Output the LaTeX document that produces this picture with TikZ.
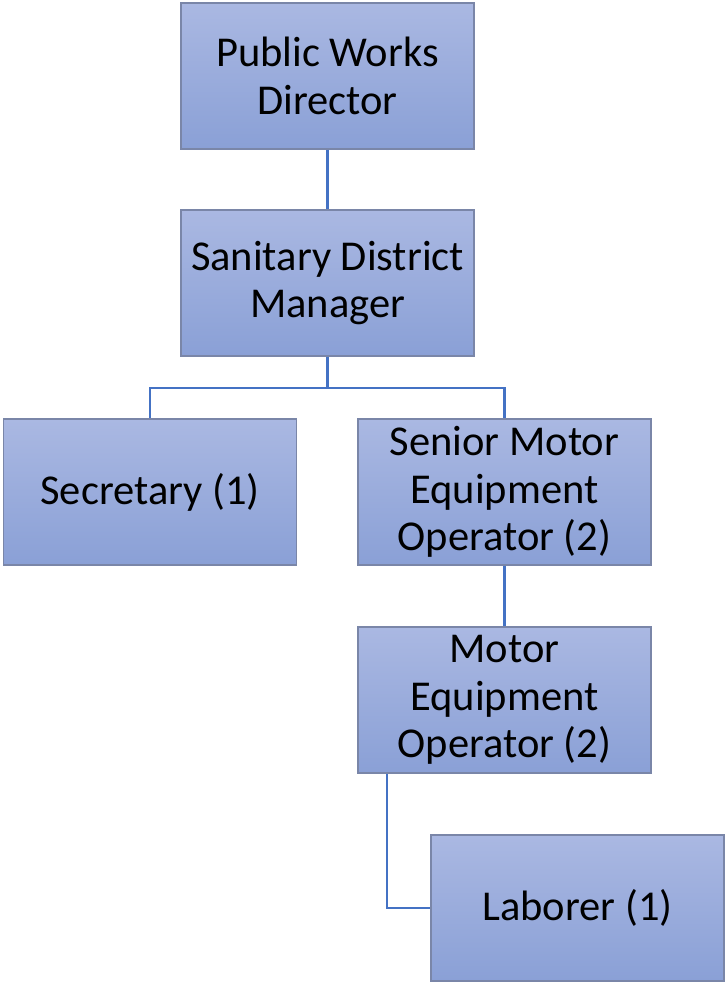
\documentclass[tikz,border=0pt]{standalone}
\usepackage{fontspec}
\setmainfont{Carlito}
\definecolor{boxtop}{HTML}{AAB8E2}
\definecolor{boxbot}{HTML}{8AA0D6}
\definecolor{boxline}{HTML}{7A86A8}
\definecolor{conn}{HTML}{4472C4}
\begin{document}
\begin{tikzpicture}[x=1pt,y=-1pt,
  orgbox/.style={draw=boxline,line width=1.3pt,top color=boxtop,bottom color=boxbot,
    minimum width=293pt,minimum height=146pt,inner sep=0pt,align=center,
    font=\fontsize{42.5}{47.5}\selectfont,text=black},
  link/.style={draw=conn,line width=2.4pt}]
\useasboundingbox (0,0) rectangle (725,983);
\node[orgbox] (pwd) at (327.5,76) {Public Works\\Director};
\node[orgbox] (sdm) at (327.5,283) {Sanitary District\\Manager};
\node[orgbox] (sec) at (150,492) {Secretary (1)};
\node[orgbox] (smeo) at (504.5,492) {Senior Motor\\Equipment\\Operator (2)};
\node[orgbox] (meo) at (504.5,700) {Motor\\Equipment\\Operator (2)};
\node[orgbox] (lab) at (577.5,908) {Laborer (1)};
\coordinate (split) at (327.5,388);
\draw[link] (pwd.south) -- (sdm.north);
\draw[link] (sdm.south) -- (split);
\draw[link] (split) -| (sec.north);
\draw[link] (split) -| (smeo.north);
\draw[link] (smeo.south) -- (meo.north);
\draw[link] ([xshift=-117.5pt]meo.south) |- (lab.west);
\end{tikzpicture}
\end{document}
